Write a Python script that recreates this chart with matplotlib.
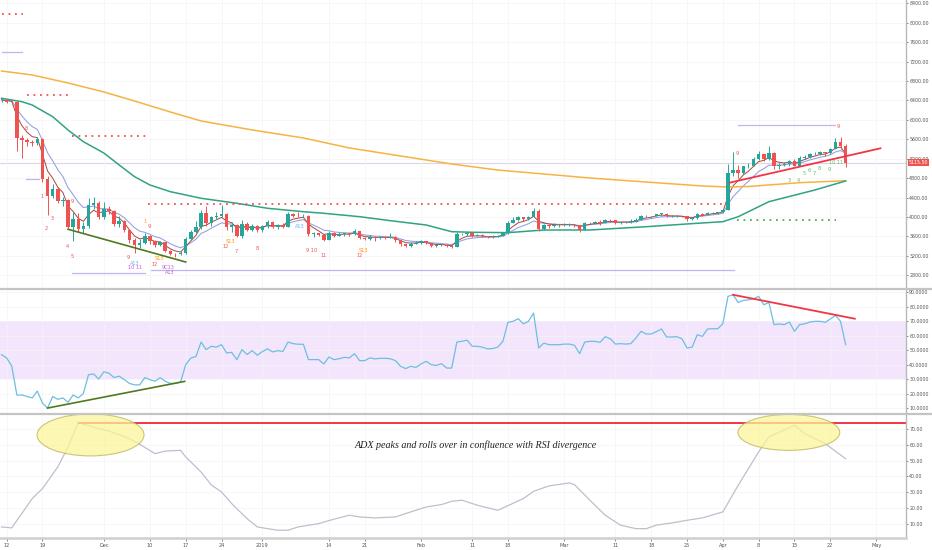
import numpy as np
import pandas as pd
import matplotlib
matplotlib.use('Agg')
import matplotlib.pyplot as plt
from matplotlib.patches import Ellipse
from matplotlib.lines import Line2D
import matplotlib.transforms as mtrans

# daily candles, day 0 = 2018-11-11
closes = [6411, 6371, 6360, 5620, 5580, 5540, 5520, 5600, 4780, 4430,
          4580, 4330, 4340, 3800, 3950, 3760, 3820, 4250, 4280, 3990,
          4170, 4130, 3860, 3920, 3730, 3520, 3420, 3460, 3600, 3500,
          3420, 3480, 3300, 3240, 3230, 3250, 3550, 3690, 3790, 4080,
          3870, 3990, 4010, 4070, 3800, 3830, 3600, 3860, 3740, 3810, 3730,
          3810, 3900, 3800, 3830, 3800, 4060, 4020, 4010, 4020, 3640,
          3660, 3620, 3530, 3680, 3610, 3640, 3660, 3640, 3710, 3560,
          3550, 3580, 3560, 3590, 3570, 3580, 3530, 3440, 3410, 3450, 3470,
          3500, 3460, 3410, 3415, 3430, 3400, 3390, 3640, 3650, 3670,
          3610, 3620, 3600, 3580, 3590, 3610, 3660, 3880, 3930, 3990,
          3950, 4000, 4120, 3760, 3830, 3820, 3825, 3830,
          3840, 3845, 3830, 3740, 3870, 3880, 3890, 3880, 3940, 3930,
          3880, 3890, 3895, 3900, 3940, 4030, 4010, 4020, 4060, 4070,
          4010, 4015, 4020, 4010, 3950, 3970, 4070, 4050, 4080, 4090, 4095,
          4150, 4900, 4970, 4910, 5040, 5060, 5190, 5290, 5200, 5320,
          5050, 5080, 5090, 5160, 5060, 5210, 5240, 5290, 5300, 5330,
          5310, 5400, 5540, 5470, 5115.5]
highs = [6460, 6430, 6400, 6390, 5690, 5620, 5590, 5650, 5620, 4850,
         4680, 4620, 4410, 4360, 4100, 4080, 3890, 4400, 4420, 4330,
         4300, 4230, 4140, 4030, 3940, 3750, 3570, 3540, 3670, 3620,
         3530, 3500, 3490, 3320, 3260, 3300, 3580, 3730, 3910, 4140,
         4220, 4030, 4100, 4240, 4090, 3890, 3860, 3930, 3900, 3860, 3830,
         3840, 3930, 3910, 3860, 3880, 4100, 4080, 4110, 4060, 4040,
         3690, 3670, 3630, 3720, 3700, 3690, 3680, 3680, 3760, 3720,
         3590, 3620, 3600, 3610, 3610, 3660, 3600, 3540, 3450, 3480, 3510,
         3530, 3510, 3470, 3440, 3450, 3440, 3420, 3700, 3670, 3690,
         3670, 3640, 3650, 3610, 3620, 3630, 3680, 3910, 3990, 4010,
         4000, 4010, 4190, 4160, 3860, 3850, 3870, 3860,
         3870, 3870, 3850, 3840, 3900, 3900, 3920, 3940, 3960, 3950,
         3940, 3920, 3920, 3950, 3970, 4050, 4040, 4030, 4070, 4080,
         4090, 4040, 4040, 4030, 4010, 3990, 4090, 4080, 4110, 4110, 4110,
         4170, 5090, 5340, 5070, 5060, 5120, 5230, 5360, 5300, 5460,
         5330, 5110, 5130, 5180, 5190, 5250, 5270, 5310, 5330, 5350,
         5340, 5420, 5620, 5640, 5500]
lows = [6360, 6340, 6320, 5350, 5220, 5470, 5470, 5480, 4730, 4050,
        4400, 4290, 4230, 3760, 3500, 3690, 3680, 3780, 4170, 3960,
        3960, 4070, 3820, 3800, 3700, 3470, 3250, 3360, 3440, 3450,
        3380, 3400, 3270, 3220, 3170, 3210, 3240, 3520, 3670, 3760,
        3810, 3820, 3950, 3990, 3730, 3700, 3580, 3570, 3710, 3720, 3700,
        3700, 3780, 3770, 3760, 3780, 3790, 3990, 3990, 3990, 3600,
        3580, 3600, 3500, 3520, 3590, 3600, 3610, 3600, 3630, 3540,
        3520, 3520, 3510, 3550, 3550, 3560, 3490, 3410, 3380, 3390, 3440,
        3450, 3440, 3390, 3390, 3400, 3380, 3370, 3380, 3630, 3610,
        3590, 3600, 3580, 3560, 3570, 3580, 3600, 3650, 3870, 3920,
        3910, 3930, 3990, 3720, 3740, 3780, 3800, 3800,
        3820, 3810, 3800, 3700, 3730, 3850, 3860, 3840, 3870, 3890,
        3860, 3860, 3870, 3880, 3890, 3930, 3990, 3980, 4010, 4030,
        3990, 3990, 4000, 3990, 3920, 3940, 3960, 4030, 4040, 4070, 4070,
        4080, 4140, 4840, 4810, 4890, 5000, 5040, 5170, 5160, 5180,
        4980, 4980, 5060, 5040, 5050, 5060, 5190, 5220, 5270, 5270,
        5260, 5300, 5390, 5400, 5020]
opens = [6400] + closes[:-1]

# moving averages (day, price)
ma200_days = [0, 6, 13, 20, 26, 33, 39, 49, 59, 68, 78, 88, 97, 106, 115, 126, 137, 142, 146, 156, 165]
ma200_vals = [7006, 6924, 6760, 6574, 6388, 6162, 5977, 5792, 5627, 5421, 5256, 5091, 4967, 4885,
              4803, 4720, 4638, 4618, 4628, 4706, 4747]
ma50_days = [0, 4, 6, 10, 13, 16, 20, 23, 26, 29, 33, 36, 39, 46, 52, 59, 63, 70, 76, 83, 88, 92,
             99, 106, 115, 126, 136, 141, 144, 150, 159, 165]
ma50_vals = [6444, 6374, 6306, 6065, 5791, 5550, 5317, 5071, 4830, 4659, 4521, 4453, 4385, 4282,
             4179, 4109, 4076, 4006, 3924, 3835, 3697, 3685, 3677, 3732, 3732, 3800, 3870, 3903,
             4006, 4315, 4556, 4741]

rsi = [46.8, 44.5, 39, 19, 19, 18, 17, 21.7, 13.4, 10,
       18, 16, 17, 14, 19, 17, 20, 33, 33.5, 30,
       35, 34, 31, 32, 29.6, 27, 26, 26, 31, 29.6,
       28.5, 31, 28.5, 27, 27, 28, 39.9, 44.5, 45.5, 55.5,
       50.3, 52.6, 52, 53.7, 48, 48.4, 43.4, 50.3, 46.9, 49.6,
       46.4, 49, 50.8, 48.7, 49.6, 49, 55.5, 54.4, 54, 54,
       43.4, 43.4, 43.4, 40.4, 45.2, 43.4, 44, 45, 44.6, 47.5,
       42.7, 42.7, 44.6, 43.9, 44.3, 44.3, 44, 42.7, 38.8, 37.2,
       38.8, 38, 40.4, 42.2, 39.9, 39.4, 40.6, 37.6, 37.6,
       55.5, 56, 56.8, 52.6, 52.6, 52, 50.8, 51, 52, 56,
       69.1, 69.8, 71.6, 68.1, 69.8, 75.5, 51.4, 54.8, 53.7, 53.7,
       53.7, 54.1, 54.1, 53.3, 47.5, 55.5, 56, 56, 55.3, 59.2,
       57.8, 54.1, 54.4, 54.1, 54.4, 58.3, 62.9, 61.1, 61.1, 62.7,
       64.5, 59, 59, 59.2, 57.8, 51.4, 52, 60.6, 59.4, 64.5,
       64.7, 64.7, 68.1, 87, 88.1, 82.8, 84.2, 84.6, 85.3, 87,
       81.2, 82.8, 67.5, 68, 67.5, 69.3, 62.9, 67.5, 68.1, 69.3,
       69.8, 69.8, 69.1, 71.4, 73.9, 69.8, 53.7]

adx_days = [0, 2, 6, 8, 11, 13, 15, 16, 19, 21, 25, 27, 30, 32, 35, 36, 39, 41, 43, 45,
            48, 50, 52, 54, 56, 58, 62, 65, 68, 70, 73, 77, 80, 83, 86, 88, 90, 93, 97, 102,
            104, 107, 111, 112, 115, 118, 121, 124, 126, 128, 131, 134, 137, 141, 144, 148,
            150, 155, 157, 161, 165]
adx_vals = [8.1, 7.5, 26, 32.3, 46, 58.6, 74.2, 73, 70.2, 68.7, 63.9, 60.3, 54.4, 56, 56.5,
            52.3, 42.8, 34.6, 30.2, 22.8, 13.3, 8.1, 7, 6, 6, 8.1, 10.2, 13, 15.5, 14.4,
            13.8, 14.4, 17.6, 20.7, 22.2, 24.3, 25, 21.8, 18.6, 26, 30.6, 34, 35.9, 34.8,
            25, 15.5, 9.2, 7, 7, 9.2, 10.6, 12.3, 13.8, 17.6, 34.4, 55.5, 65, 72.3, 67,
            60.7, 51.2]

date_ticks = [1, 8, 20, 29, 36, 43, 51, 64, 71, 82, 92, 99, 110, 120, 127, 134, 141, 148, 155, 162, 171]
date_labels = ['12', '19', 'Dec', '10', '17', '24', '2019', '14', '21', 'Feb', '11', '18',
               'Mar', '11', '18', '25', 'Apr', '8', '15', '22', 'May']
price_ticks = list(range(2800, 8401, 400))
rsi_ticks = list(range(10, 91, 10))
adx_ticks = list(range(10, 71, 10))
last_price = closes[-1]

# TD sequential counts (day, price, text, colour)
RED, ORG, GRN, BLU, PUR = '#ef5350', '#ff9800', '#66bb6a', '#64b5f6', '#ba68c8'
td_labels = [(4.9, 5817, '8', RED), (8.0, 4412, '1', RED), (8.8, 3773, '2', RED),
             (10.0, 3979, '3', RED), (12.9, 3382, '4', RED), (13.9, 3176, '5', RED),
             (13.9, 4309, '9', RED), (28.0, 3897, '1', ORG), (28.9, 3794, '9', RED),
             (24.8, 3156, '9', RED), (26.0, 3032, 'A13', BLU), (26.2, 2950, '10 11', '#e040fb'),
             (29.9, 3012, '12', RED), (30.9, 3135, 'S13', ORG), (32.6, 2950, '9C13', PUR),
             (32.8, 2847, 'A13', PUR), (43.8, 3382, '12', RED), (44.8, 3485, 'S13', ORG),
             (45.9, 3279, '7', RED), (49.9, 3361, '8', RED), (58.3, 3794, 'A13', BLU),
             (60.6, 3300, '9 10', RED), (63.0, 3197, '11', RED), (70.0, 3197, '12', RED),
             (70.8, 3300, 'S13', ORG), (143.9, 5298, '9', RED), (153.9, 4741, '3', GRN),
             (155.8, 4741, '4', GRN), (156.8, 4900, '5', GRN), (157.8, 4960, '6', GRN),
             (158.8, 4890, '7', GRN), (159.9, 4990, '8', GRN), (161.7, 4968, '9', GRN),
             (163.2, 5112, '10 11', GRN), (163.6, 5858, '9', RED)]

fig = plt.figure(figsize=(9.32, 5.5), dpi=100)
W, H = 932.0, 550.0
right = 906 / W
ax_p = fig.add_axes([0, (H - 289) / H, right, 289 / H])
ax_r = fig.add_axes([0, (H - 414) / H, right, 124 / H], sharex=ax_p)
ax_a = fig.add_axes([0, (H - 538) / H, right, 123 / H], sharex=ax_p)

days = np.arange(len(closes))
o = np.array(opens, float)
c = np.array(closes, float)
up = c >= o
cols = np.where(up, '#26a69a', '#ef5350')

# candles
ax_p.vlines(days, lows, highs, color=cols, lw=0.7, zorder=3)
body = np.maximum(np.abs(c - o), 12)
ax_p.bar(days, body, bottom=np.minimum(o, c), width=0.68, color=cols, zorder=4)

s = pd.Series(closes)
ax_p.plot(days, s.ewm(span=8, adjust=False).mean(), color='#98a2e6', lw=0.8, zorder=2)
ax_p.plot(days, s.ewm(span=4, adjust=False).mean(), color='#a5483c', lw=0.7, zorder=2)
ax_p.plot(ma200_days, ma200_vals, color='#f5b342', lw=1.1, zorder=2)
ax_p.plot(ma50_days, ma50_vals, color='#30a383', lw=1.1, zorder=2)

# TD levels
dot = (0, (1, 2.6))
ax_p.plot([0, 4.1], [8180, 8180], color=RED, lw=1.3, ls=dot)
ax_p.plot([0, 4.0], [7391, 7391], color='#c5b3f0', lw=0.9)
ax_p.plot([5, 13], [6518, 6518], color=RED, lw=1.3, ls=dot)
ax_p.plot([13.7, 28.2], [5668, 5668], color=RED, lw=1.3, ls=dot)
ax_p.plot([4.7, 7.4], [4776, 4776], color='#c5b3f0', lw=0.9)
ax_p.plot([28.7, 141.4], [4268, 4268], color=RED, lw=1.3, ls=dot)
ax_p.plot([13.7, 28.0], [2841, 2841], color='#c5b3f0', lw=0.9)
ax_p.plot([29.3, 143.1], [2909, 2909], color='#c5b3f0', lw=0.9)
ax_p.plot([143.7, 163.2], [3938, 3938], color='#4caf50', lw=1.3, ls=dot)
ax_p.plot([143.9, 163.0], [5894, 5894], color='#c5b3f0', lw=0.9)
ax_p.axhline(last_price, color='#ddd3ea', lw=0.8, zorder=1)

# trend lines
ax_p.plot([13, 36], [3747, 3073], color='#4f7a1f', lw=1.2, zorder=5)
ax_p.plot([142.3, 171.8], [4706, 5414], color='#f23645', lw=1.3, zorder=5)

for x, y, t, col in td_labels:
    ax_p.text(x, y, t, color=col, fontsize=3.6, ha='center', va='center', zorder=6)

# RSI
ax_r.axhspan(30, 70, color='#f3e6fc', lw=0)
ax_r.plot(days, rsi, color='#6cbfe0', lw=0.9)
ax_r.plot([9, 35.8], [10, 28.4], color='#4f7a1f', lw=1.2)
ax_r.plot([143, 166.8], [88.1, 71.6], color='#f23645', lw=1.3)

# ADX
ax_a.plot(adx_days, adx_vals, color='#c4bccd', lw=0.9)
ax_a.plot([15.1, 180], [74, 74], color='#f23645', lw=1.4)
for cx, cy, w, h in [(17.4, 66.2, 20.9, 26.5), (153.9, 67.8, 19.9, 22.7)]:
    ax_a.add_patch(Ellipse((cx, cy), w, h, facecolor='#fbf59a', edgecolor='#b8b45a',
                           lw=0.8, alpha=0.75, zorder=3))
ax_a.text(69, 59.9, 'ADX peaks and rolls over in confluence with RSI divergence',
          family='Liberation Serif', style='italic', fontsize=7.2, color='#222222',
          ha='left', va='center')

ax_p.set_xlim(-0.3, 176.8)
ax_p.set_ylim(2517, 8468)
ax_r.set_ylim(5.9, 91.4)
ax_a.set_ylim(1.1, 78.8)

for ax, ticks, fmt in [(ax_p, price_ticks, '%.2f'), (ax_r, rsi_ticks, '%.4f'), (ax_a, adx_ticks, '%.2f')]:
    ax.yaxis.tick_right()
    ax.set_yticks(ticks)
    ax.set_yticklabels([fmt % t for t in ticks])
    ax.tick_params(axis='y', labelsize=3.4, colors='#555555', length=1.5, width=0.5, pad=0.8)
    ax.grid(True, color='#f4f4f6', lw=0.5)
    for sp in ['top', 'left', 'bottom']:
        ax.spines[sp].set_visible(False)
    ax.spines['right'].set_color('#b8b8b8')
    ax.spines['right'].set_linewidth(1.0)
    ax.set_facecolor('white')

ax_p.tick_params(axis='x', bottom=False, labelbottom=False)
ax_r.tick_params(axis='x', bottom=False, labelbottom=False)
ax_a.set_xticks(date_ticks)
ax_a.set_xticklabels(date_labels)
ax_a.tick_params(axis='x', labelsize=3.6, colors='#555555', length=2, width=0.5, pad=1.5)
ax_a.spines['bottom'].set_visible(True)
ax_a.spines['bottom'].set_color('#cfcfcf')
ax_a.spines['bottom'].set_linewidth(1.8)

# panel separators
for yp in [289, 414]:
    fig.add_artist(Line2D([0, 1], [(H - yp) / H] * 2, color='#c4c4c4', lw=1.6))

# last price tag
tr = mtrans.blended_transform_factory(ax_p.transAxes, ax_p.transData)
ax_p.text(1.003, last_price, '%.2f' % last_price, transform=tr, fontsize=3.4, color='white',
          ha='left', va='center', clip_on=False,
          bbox=dict(boxstyle='square,pad=0.2', facecolor='#ef5350', edgecolor='none'))

fig.savefig('out.png', dpi=100, facecolor='white')
